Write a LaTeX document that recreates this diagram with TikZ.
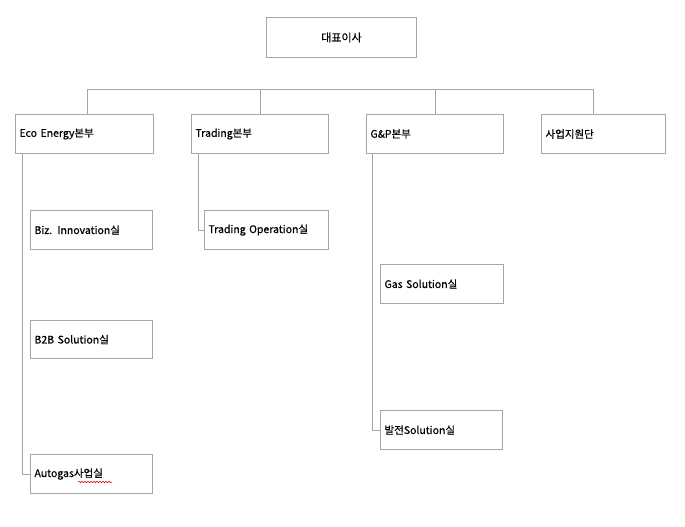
\documentclass[tikz,border=0pt]{standalone}
\usepackage{fontspec}
\setmainfont[FakeBold=0.4]{Noto Sans CJK KR}
\newfontfamily\krmed[FakeBold=0.8]{Noto Sans CJK KR}
\usetikzlibrary{decorations.pathmorphing}
\definecolor{linegray}{HTML}{A6A6A6}
\tikzset{
  orgbox/.style={draw=linegray, line width=1pt, anchor=north west, inner xsep=4pt, inner ysep=0pt,
    align=left, font=\fontsize{10.5}{12}\selectfont},
  medbox/.style={orgbox, font=\krmed\fontsize{10.5}{12}\selectfont},
  conn/.style={draw=linegray, line width=1pt}
}
\begin{document}
\begin{tikzpicture}[x=1pt,y=-1pt]
\useasboundingbox (0,0) rectangle (685,527);
% top
\node[orgbox, align=center, text width=142pt, minimum height=40pt, font=\fontsize{11}{13}\selectfont] (ceo) at (266,17) {대표이사};
\node[orgbox, text width=130pt, minimum height=39pt] (eco) at (15,114) {Eco Energy본부};
\node[orgbox, text width=129pt, minimum height=39pt] (trd) at (191,114) {Trading본부};
\node[orgbox, text width=129pt, minimum height=39pt] (gnp) at (366,114) {G\&P본부};
\node[orgbox, text width=116pt, minimum height=39pt] (sup) at (541,114) {사업지원단};
% children
\node[medbox, text width=114pt, minimum height=39pt] (biz) at (30,210) {Biz. Innovation실};
\node[medbox, text width=114pt, minimum height=38pt] (b2b) at (30,320) {B2B Solution실};
\node[orgbox, text width=114pt, minimum height=39pt] (auto) at (30,454) {Autogas사업실};
\node[medbox, text width=116pt, minimum height=39pt] (trop) at (204,210) {Trading Operation실};
\node[medbox, text width=115pt, minimum height=39pt] (gas) at (380,264) {Gas Solution실};
\node[orgbox, text width=114pt, minimum height=39pt] (bal) at (380,410) {발전Solution실};
% bus
\coordinate (b1) at (87,89);
\coordinate (b2) at (260,89);
\coordinate (b3) at (435,89);
\coordinate (b4) at (593,89);
\draw[conn] (b1) -- (b4);
\draw[conn] (b1) -- (b1 |- eco.north);
\draw[conn] (b2) -- (b2 |- trd.north);
\draw[conn] (b3) -- (b3 |- gnp.north);
\draw[conn] (b4) -- (b4 |- sup.north);
% vertical branches
\coordinate (v1) at (22,153);
\coordinate (v2) at (198,153);
\coordinate (v3) at (372,153);
\draw[conn] (v1) |- (auto.west);
\draw[conn] (v2) |- (trop.west);
\draw[conn] (v3) |- (bal.west);
% spell-check squiggle
\coordinate (sq1) at (78,482);
\coordinate (sq2) at (112,482);
\draw[red!80!black, line width=0.5pt, decorate, decoration={snake, segment length=3pt, amplitude=0.8pt}] (sq1) -- (sq2);
\end{tikzpicture}
\end{document}
